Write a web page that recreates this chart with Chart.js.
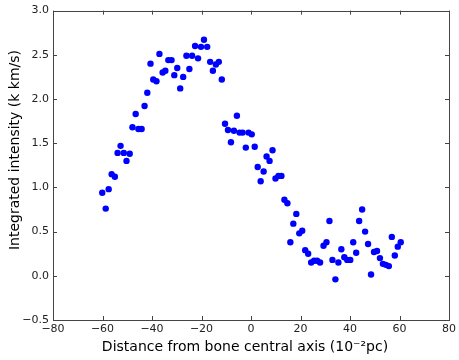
<!DOCTYPE html>
<html>
<head>
<meta charset="utf-8">
<script src="https://cdn.jsdelivr.net/npm/chart.js@4"></script>
<style>
html,body{margin:0;padding:0;background:#fff;}
#wrap{width:459px;height:360px;position:relative;}
</style>
</head>
<body>
<div id="wrap"><canvas id="c" width="459" height="360"></canvas></div>
<script>
const distance = [-60.1,-58.7,-57.5,-56.3,-55.0,-53.9,-52.7,-51.4,-50.3,-49.0,-47.9,-46.6,-45.5,-44.2,-43.0,-41.9,-40.6,-39.5,-38.2,-37.0,-35.7,-34.6,-33.4,-32.1,-31.0,-29.8,-28.6,-27.4,-26.1,-24.9,-23.8,-22.6,-21.4,-20.2,-19.0,-17.7,-16.5,-15.4,-14.2,-13.0,-11.8,-10.5,-9.3,-8.1,-6.9,-5.7,-4.6,-3.4,-2.1,-1.0,0.3,1.5,2.7,3.9,5.1,6.3,7.5,8.7,9.9,11.1,12.3,13.5,14.7,15.9,17.1,18.3,19.5,20.7,21.9,23.1,24.3,25.5,26.7,27.9,29.3,30.5,31.7,32.9,34.1,35.3,36.5,37.7,38.9,40.1,41.3,42.5,43.7,44.9,46.1,47.3,48.5,49.7,50.9,52.1,53.3,54.5,55.7,56.9,58.1,59.3,60.5];
const intensity = [0.94,0.76,0.98,1.15,1.12,1.39,1.47,1.39,1.30,1.38,1.68,1.83,1.66,1.66,1.92,2.07,2.40,2.22,2.20,2.51,2.30,2.32,2.44,2.44,2.27,2.35,2.12,2.25,2.49,2.34,2.49,2.60,2.46,2.59,2.67,2.59,2.42,2.32,2.39,2.42,2.22,1.72,1.65,1.51,1.64,1.81,1.62,1.62,1.45,1.62,1.60,1.46,1.23,1.07,1.18,1.35,1.30,1.42,1.10,1.13,1.13,0.86,0.82,0.38,0.59,0.70,0.48,0.51,0.29,0.25,0.15,0.17,0.17,0.15,0.34,0.38,0.62,0.18,-0.04,0.15,0.30,0.21,0.18,0.18,0.38,0.26,0.62,0.75,0.50,0.36,0.015,0.27,0.28,0.20,0.135,0.124,0.11,0.44,0.23,0.33,0.38];
const xTicks = [-80,-60,-40,-20,0,20,40,60,80];
const yTicks = [-0.5,0.0,0.5,1.0,1.5,2.0,2.5,3.0];
const xTitle = 'Distance from bone central axis (10\u207B\u00B2pc)';
const yTitle = 'Integrated intensity (k km/s)';

const points = distance.map((d, i) => ({x: d, y: intensity[i]}));
const fmtMinus = s => s.replace('-', '\u2212');

const frameTicks = {
  id: 'frameTicks',
  afterDraw(chart) {
    const ctx = chart.ctx, a = chart.chartArea;
    const xs = chart.scales.x, ys = chart.scales.y;
    ctx.save();
    ctx.strokeStyle = '#444';
    ctx.lineWidth = 1;
    ctx.beginPath();
    xTicks.forEach(v => {
      const p = Math.round(xs.getPixelForValue(v)) + 0.5;
      ctx.moveTo(p, a.bottom); ctx.lineTo(p, a.bottom - 4);
      ctx.moveTo(p, a.top); ctx.lineTo(p, a.top + 4);
    });
    yTicks.forEach(v => {
      const p = Math.round(ys.getPixelForValue(v)) + 0.5;
      ctx.moveTo(a.left, p); ctx.lineTo(a.left + 4, p);
      ctx.moveTo(a.right, p); ctx.lineTo(a.right - 4, p);
    });
    ctx.stroke();
    ctx.strokeRect(Math.round(a.left) + 0.5, Math.round(a.top) + 0.5,
                   Math.round(a.right - a.left), Math.round(a.bottom - a.top));
    // axis titles
    ctx.fillStyle = '#000';
    ctx.font = '14px "DejaVu Sans"';
    ctx.textAlign = 'center';
    ctx.textBaseline = 'middle';
    ctx.fillText(xTitle, 245, 347);
    ctx.translate(15, 150);
    ctx.rotate(-Math.PI / 2);
    ctx.fillText(yTitle, 0, 0);
    ctx.restore();
  }
};

new Chart(document.getElementById('c'), {
  type: 'scatter',
  data: {
    datasets: [{
      data: points,
      backgroundColor: '#0000ff',
      borderWidth: 0,
      pointRadius: 3.2,
      pointHoverRadius: 3.2
    }]
  },
  options: {
    responsive: false,
    animation: false,
    events: [],
    layout: {padding: {top: 10, right: 6, left: 0, bottom: 0}},
    plugins: {legend: {display: false}, tooltip: {enabled: false}},
    scales: {
      x: {
        type: 'linear', min: -80, max: 80,
        afterBuildTicks: s => { s.ticks = xTicks.map(v => ({value: v})); },
        afterFit: s => { s.height = 40; },
        grid: {display: false, drawTicks: false},
        border: {display: false},
        ticks: {
          padding: 3,
          color: '#222',
          font: {family: 'DejaVu Sans', size: 11},
          maxRotation: 0,
          callback: v => fmtMinus(String(v))
        },
        title: {display: false}
      },
      y: {
        type: 'linear', min: -0.5, max: 3.0,
        afterBuildTicks: s => { s.ticks = yTicks.map(v => ({value: v})); },
        afterFit: s => { s.width = 53; },
        grid: {display: false, drawTicks: false},
        border: {display: false},
        ticks: {
          padding: 4,
          color: '#222',
          font: {family: 'DejaVu Sans', size: 11},
          callback: v => fmtMinus(Number(v).toFixed(1))
        },
        title: {display: false}
      }
    }
  },
  plugins: [frameTicks]
});
</script>
</body>
</html>
